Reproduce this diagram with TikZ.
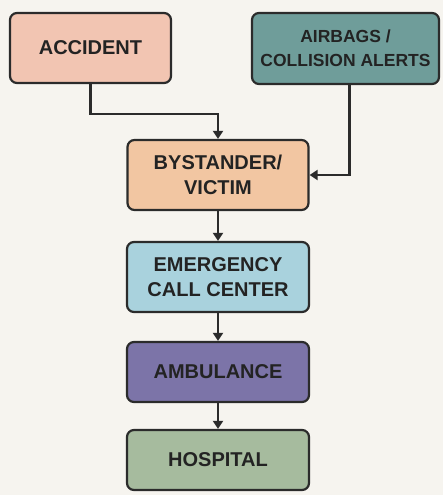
\documentclass[tikz,border=0pt]{standalone}
\usepackage{fontspec}
\setmainfont{Liberation Sans}
\usetikzlibrary{arrows.meta}
\definecolor{bg}{HTML}{F6F4EF}
\definecolor{edge}{HTML}{2B2B2B}
\definecolor{txt}{HTML}{232323}
\definecolor{accfill}{HTML}{F2C5B2}
\definecolor{airfill}{HTML}{6F9D9A}
\definecolor{bysfill}{HTML}{F2C6A2}
\definecolor{emgfill}{HTML}{A9D2DD}
\definecolor{ambfill}{HTML}{7C74A8}
\definecolor{hosfill}{HTML}{A6BB9E}
\tikzset{
  flowbox/.style={rectangle, rounded corners=7pt, draw=edge, line width=2.2pt,
    inner sep=0pt, align=center, text=txt,
    font=\fontsize{20}{25}\selectfont\bfseries},
  arr/.style={draw=edge, line width=2.3pt, -{Triangle[length=8pt,width=10pt]}}
}
\begin{document}
\begin{tikzpicture}[x=1pt,y=-1pt]
\useasboundingbox[fill=bg] (0,0) rectangle (443,495);
\node[flowbox, fill=accfill, minimum width=161pt, minimum height=70pt] (acc) at (90.5,48) {ACCIDENT};
\node[flowbox, fill=airfill, minimum width=187pt, minimum height=71pt,
  font=\fontsize{17.5}{24}\selectfont\bfseries] (air) at (345.5,48.5) {AIRBAGS /\\COLLISION ALERTS};
\node[flowbox, fill=bysfill, minimum width=181pt, minimum height=70pt] (bys) at (218,175) {BYSTANDER/\\VICTIM};
\node[flowbox, fill=emgfill, minimum width=182pt, minimum height=70pt] (emg) at (218,277) {EMERGENCY\\CALL CENTER};
\node[flowbox, fill=ambfill, minimum width=182pt, minimum height=60pt] (amb) at (218,372) {AMBULANCE};
\node[flowbox, fill=hosfill, minimum width=182pt, minimum height=60pt] (hos) at (218,460) {HOSPITAL};
\draw[arr] (acc.south) -- ++(0,30) -| (bys.north);
\draw[arr] ([xshift=4pt]air.south) |- (bys.east);
\draw[arr] (bys.south) -- (emg.north);
\draw[arr] (emg.south) -- (amb.north);
\draw[arr] (amb.south) -- (hos.north);
\end{tikzpicture}
\end{document}
